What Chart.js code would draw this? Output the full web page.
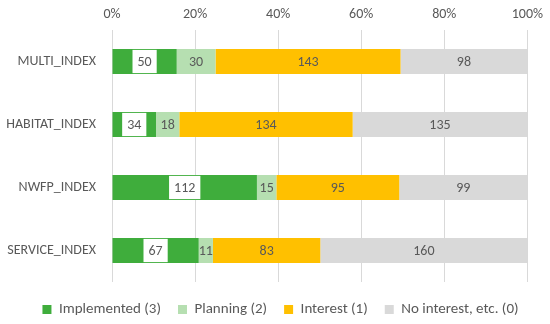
<!DOCTYPE html>
<html>
<head>
<meta charset="utf-8">
<script src="https://cdn.jsdelivr.net/npm/chart.js@4"></script>
<style>
  html, body { margin: 0; padding: 0; background: #fff; }
  #wrap { width: 550px; height: 324px; }
</style>
</head>
<body>
<div id="wrap"><canvas id="chart" width="550" height="324"></canvas></div>
<script>
const categories = ["MULTI_INDEX", "HABITAT_INDEX", "NWFP_INDEX", "SERVICE_INDEX"];
const seriesNames = ["Implemented (3)", "Planning (2)", "Interest (1)", "No interest, etc. (0)"];
const implemented = [50, 34, 112, 67];
const planning = [30, 18, 15, 11];
const interest = [143, 134, 95, 83];
const noInterest = [98, 135, 99, 160];
const tickLabels = ["0%", "20%", "40%", "60%", "80%", "100%"];

const colors = ["#3fad3c", "#b6dfb1", "#ffc000", "#d9d9d9"];
const raw = [implemented, planning, interest, noInterest];
const totals = categories.map((c, i) => raw.reduce((s, arr) => s + arr[i], 0));

const textColor = "#595959";
const fontFam = "Carlito, Lato, sans-serif";

// draws the count inside each bar, white box for the first series
const barLabels = {
  id: "barLabels",
  afterLayout(chart) {
    // nudge the legend a bit right/down like the original
    const lg = chart.legend;
    lg.left += 14; lg.right += 14;
    lg.top += 3; lg.bottom += 3;
  },
  afterDatasetsDraw(chart) {
    const ctx = chart.ctx;
    ctx.save();
    ctx.font = "14px " + fontFam;
    ctx.textAlign = "center";
    ctx.textBaseline = "middle";
    chart.data.datasets.forEach((ds, di) => {
      const meta = chart.getDatasetMeta(di);
      meta.data.forEach((bar, i) => {
        const x = (bar.x + bar.base) / 2;
        const y = bar.y;
        const txt = String(ds.rawValues[i]);
        if (di == 0) {
          const w = ctx.measureText(txt).width + 10;
          const h = bar.height - 2;
          ctx.fillStyle = "#fff";
          ctx.fillRect(x - w / 2, y - h / 2, w, h);
        }
        ctx.fillStyle = textColor;
        ctx.fillText(txt, x, y + 1);
      });
    });
    ctx.restore();
  }
};

new Chart("chart", {
  type: "bar",
  data: {
    labels: categories,
    datasets: seriesNames.map((name, k) => ({
      label: name,
      data: raw[k].map((v, i) => v / totals[i] * 100),
      rawValues: raw[k],
      backgroundColor: colors[k],
      borderWidth: 0,
      barPercentage: 0.8,
      categoryPercentage: 0.5
    }))
  },
  options: {
    indexAxis: "y",
    responsive: false,
    animation: false,
    layout: { padding: { left: 0, right: 17, top: 0, bottom: 0 } },
    scales: {
      x: {
        position: "top",
        stacked: true,
        min: 0,
        max: 100,
        ticks: {
          stepSize: 20,
          color: textColor,
          font: { size: 14, family: fontFam },
          padding: 7,
          callback: (v, i) => tickLabels[i]
        },
        grid: { color: "#d9d9d9", drawTicks: false },
        border: { display: false },
        afterFit: (axis) => { axis.height = 30; }
      },
      y: {
        stacked: true,
        ticks: {
          color: textColor,
          font: { size: 14, family: fontFam },
          padding: 8
        },
        grid: { display: false },
        border: { display: false },
        afterFit: (axis) => { axis.width = 112; }
      }
    },
    plugins: {
      legend: {
        position: "bottom",
        labels: {
          color: textColor,
          font: { size: 15, family: fontFam },
          boxWidth: 9,
          boxHeight: 9,
          padding: 17
        }
      },
      tooltip: { enabled: false }
    }
  },
  plugins: [barLabels]
});
</script>
</body>
</html>
